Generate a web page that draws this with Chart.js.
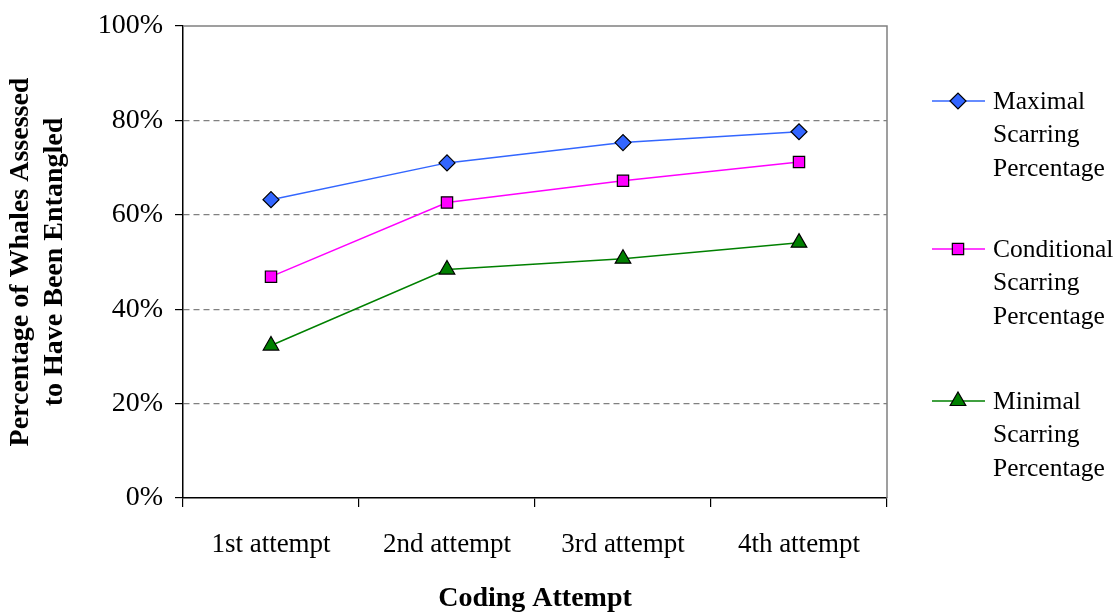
<!DOCTYPE html>
<html>
<head>
<meta charset="utf-8">
<script src="https://cdn.jsdelivr.net/npm/chart.js@4/dist/chart.umd.min.js"></script>
<style>
  html, body { margin:0; padding:0; background:#fff; }
  #wrap { width:1117px; height:612px; }
</style>
</head>
<body>
<div id="wrap"><canvas id="scarChart" width="1117" height="612"></canvas></div>
<script>
// data
const attempts = ['1st attempt', '2nd attempt', '3rd attempt', '4th attempt'];
const maximal = [63.2, 71.0, 75.3, 77.6];
const conditional = [46.9, 62.6, 67.2, 71.2];
const minimal = [32.3, 48.4, 50.7, 54.1];
const seriesNames = [
  ['Maximal', 'Scarring', 'Percentage'],
  ['Conditional', 'Scarring', 'Percentage'],
  ['Minimal', 'Scarring', 'Percentage']
];
const yTicks = [0, 20, 40, 60, 80, 100];

const serif = '"Liberation Serif", "Times New Roman", serif';

// frame + legend drawn by hand (multi-line legend labels)
const framePlugin = {
  id: 'frame',
  beforeDatasetsDraw(chart){
    const {ctx, chartArea:a} = chart;
    ctx.save();
    ctx.strokeStyle = '#808080';
    ctx.lineWidth = 1.5;
    ctx.beginPath();
    ctx.moveTo(a.left, a.top); ctx.lineTo(a.right, a.top); ctx.lineTo(a.right, a.bottom);
    ctx.stroke();
    ctx.restore();
  },
  afterDraw(chart){
    const ctx = chart.ctx;
    const rows = [101, 249, 401];
    ctx.save();
    chart.data.datasets.forEach((ds, i)=>{
      const y = rows[i];
      ctx.strokeStyle = ds.borderColor;
      ctx.lineWidth = 1.5;
      ctx.beginPath(); ctx.moveTo(932, y); ctx.lineTo(985, y); ctx.stroke();
      ctx.fillStyle = ds.pointBackgroundColor;
      ctx.strokeStyle = '#000';
      ctx.lineWidth = 1.2;
      Chart.helpers.drawPoint(ctx, {pointStyle: ds.pointStyle, radius: ds.pointRadius, borderWidth: 1.2, rotation: 0}, 958, y);
      ctx.fillStyle = '#000';
      ctx.font = '25.5px ' + serif;
      ctx.textBaseline = 'middle';
      ctx.textAlign = 'left';
      seriesNames[i].forEach((t, k)=> ctx.fillText(t, 993, y + 1 + k*33.5));
    });
    ctx.restore();
  }
};

new Chart(document.getElementById('scarChart'), {
  type: 'line',
  data: {
    labels: attempts,
    datasets: [
      { label: seriesNames[0].join(' '), data: maximal, borderColor: '#3366ff', pointBackgroundColor: '#3366ff',
        pointStyle: 'rectRot', pointRadius: 8 },
      { label: seriesNames[1].join(' '), data: conditional, borderColor: '#ff00ff', pointBackgroundColor: '#ff00ff',
        pointStyle: 'rect', pointRadius: 8 },
      { label: seriesNames[2].join(' '), data: minimal, borderColor: '#008000', pointBackgroundColor: '#008000',
        pointStyle: 'triangle', pointRadius: 9 }
    ].map(d => Object.assign(d, { borderWidth: 1.5, pointBorderColor: '#000', pointBorderWidth: 1.2, tension: 0, fill: false }))
  },
  options: {
    responsive: false,
    animation: false,
    layout: { padding: { top: 25, right: 230, left: 0, bottom: 0 } },
    plugins: { legend: { display: false }, tooltip: { enabled: false } },
    scales: {
      x: {
        offset: true,
        grid: { offset: true, drawOnChartArea: false, tickLength: 9, tickColor: '#000', lineWidth: 1.2 },
        border: { color: '#000', width: 1.5 },
        ticks: { color: '#000', font: { family: serif, size: 27 }, padding: 22, maxRotation: 0 },
        title: { display: true, text: 'Coding Attempt', color: '#000', font: { family: serif, size: 28, weight: 'bold' }, padding: { top: 20, bottom: -4 } },
        afterFit(s){ s.height = 114; }
      },
      y: {
        min: 0, max: 100,
        afterBuildTicks(s){ s.ticks = yTicks.map(v => ({ value: v })); },
        grid: {
          color: c => (c.tick && c.tick.value > 0 && c.tick.value < 100) ? '#808080' : 'rgba(0,0,0,0)',
          tickColor: '#000', tickLength: 8, tickBorderDash: [], lineWidth: 1.2
        },
        border: { color: '#000', width: 1.5, dash: [6, 4] },
        ticks: { color: '#000', font: { family: serif, size: 28, lineHeight: 1.0 }, padding: 12, callback: v => v + '%' },
        title: { display: true, text: ['Percentage of Whales Assessed', 'to Have Been Entangled'], color: '#000',
          font: { family: serif, size: 28, weight: 'bold' }, padding: { bottom: 12 }, lineHeight: 1.28 },
        afterFit(s){ s.width = 183; }
      }
    }
  },
  plugins: [framePlugin]
});
</script>
</body>
</html>
